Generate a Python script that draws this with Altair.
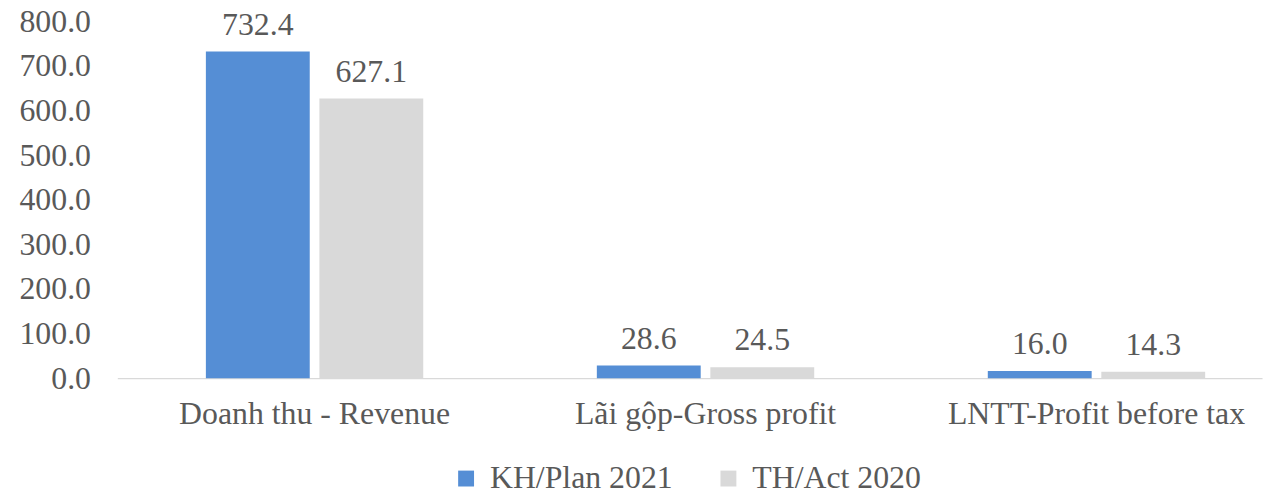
import altair as alt
import pandas as pd

categories = ["Doanh thu - Revenue", "Lãi gộp-Gross profit", "LNTT-Profit before tax"]
series_names = ["KH/Plan 2021", "TH/Act 2020"]
plan_2021 = [732.4, 28.6, 16.0]
act_2020 = [627.1, 24.5, 14.3]
y_ticks = [0, 100, 200, 300, 400, 500, 600, 700, 800]

rows = []
for c, p, a in zip(categories, plan_2021, act_2020):
    rows.append({"category": c, "series": series_names[0], "value": p})
    rows.append({"category": c, "series": series_names[1], "value": a})
df = pd.DataFrame(rows)

FONT = "Liberation Serif"
TXT = "#595959"

x_enc = alt.X(
    "category:N",
    sort=categories,
    title=None,
    scale=alt.Scale(paddingInner=0.444, paddingOuter=0.186, align=0.609, round=False),
    axis=alt.Axis(
        labelAngle=0, labelFont=FONT, labelFontSize=32, labelColor=TXT,
        ticks=False, domainColor="#D9D9D9", domainWidth=1.2, labelPadding=21,
        labelBaseline="top", labelLimit=0,
    ),
)
xoff = alt.XOffset("series:N", sort=series_names,
                   scale=alt.Scale(paddingInner=0.085, round=False))
y_enc = alt.Y(
    "value:Q",
    title=None,
    scale=alt.Scale(domain=[0, 800], nice=False),
    axis=alt.Axis(
        values=y_ticks, format=".1f", grid=False, domain=False, ticks=False,
        labelFont=FONT, labelFontSize=32, labelColor=TXT, labelPadding=27,
    ),
)

bars = alt.Chart(df).mark_bar().encode(
    x=x_enc,
    xOffset=xoff,
    y=y_enc,
    color=alt.Color(
        "series:N",
        sort=series_names,
        scale=alt.Scale(domain=series_names, range=["#558ED5", "#D9D9D9"]),
        legend=alt.Legend(
            title=None, orient="none", direction="horizontal",
            legendX=335, legendY=444,
            symbolType="square", symbolSize=256, symbolStrokeWidth=0,
            labelFont=FONT, labelFontSize=32, labelColor=TXT, labelLimit=0,
            labelOffset=8, columnPadding=40, symbolOpacity=1,
        ),
    ),
)

labels = alt.Chart(df).mark_text(
    baseline="alphabetic", dy=-17, font=FONT, fontSize=32, color=TXT
).encode(
    x=alt.X("category:N", sort=categories),
    xOffset=alt.XOffset("series:N", sort=series_names),
    y="value:Q",
    text=alt.Text("value:Q", format=".1f"),
)

chart = (
    alt.layer(bars, labels)
    .properties(
        width=1152, height=359,
        autosize=alt.AutoSizeParams(type="none"),
        padding={"left": 110, "top": 12, "right": 6, "bottom": 114},
    )
    .configure_view(stroke=None)
)

chart.save("out.html", embed_options={"renderer": "svg", "actions": False})
